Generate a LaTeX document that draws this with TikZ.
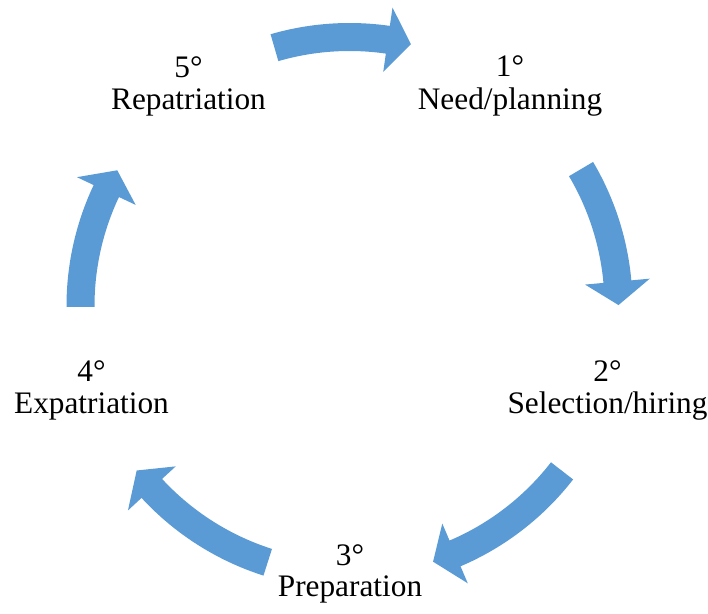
\documentclass[tikz,border=0pt]{standalone}
\usepackage{fontspec}
\setmainfont{Liberation Serif}
\definecolor{cycblue}{RGB}{91,155,213}
% Curved block arrow on the cycle circle, running clockwise
% from the tail angle #1 to the tip angle #2.
\newcommand{\CycArrow}[2]{%
  \fill[cyclearrow]
    (#1:283) arc[start angle=#1, end angle={#2+5}, radius=283]
    -- ({#2+5}:301.5) -- (#2:269) -- ({#2+5}:236.5) -- ({#2+5}:255)
    arc[start angle={#2+5}, end angle=#1, radius=255] -- cycle;}
\begin{document}
\begin{tikzpicture}[x=1pt, y=1pt,
  cyclearrow/.style={fill=cycblue},
  lbl/.style={font=\fontsize{31.3}{32}\selectfont, inner sep=0pt, anchor=base}]
\useasboundingbox (0,0) rectangle (708,613);
% arrows around the cycle
\begin{scope}[shift={(349.5,307)}]
  \CycArrow{106.2}{76.8}
  \CycArrow{30.6}{0.2}
  \CycArrow{-37.8}{-71.9}
  \CycArrow{-107.7}{-142.3}
  \CycArrow{-179.8}{-210.3}
\end{scope}
% stage labels
\node[lbl] (n1) at (510,536) {1°};
\node[lbl] (t1) at (510,503) {Need/planning};
\node[lbl] (n2) at (607.5,231) {2°};
\node[lbl] (t2) at (607.5,200) {Selection/hiring};
\node[lbl] (n3) at (350,48) {3°};
\node[lbl] (t3) at (350,17) {Preparation};
\node[lbl] (n4) at (91.5,231) {4°};
\node[lbl] (t4) at (91.5,200) {Expatriation};
\node[lbl] (n5) at (188.5,535) {5°};
\node[lbl] (t5) at (188.5,503) {Repatriation};
\end{tikzpicture}
\end{document}
